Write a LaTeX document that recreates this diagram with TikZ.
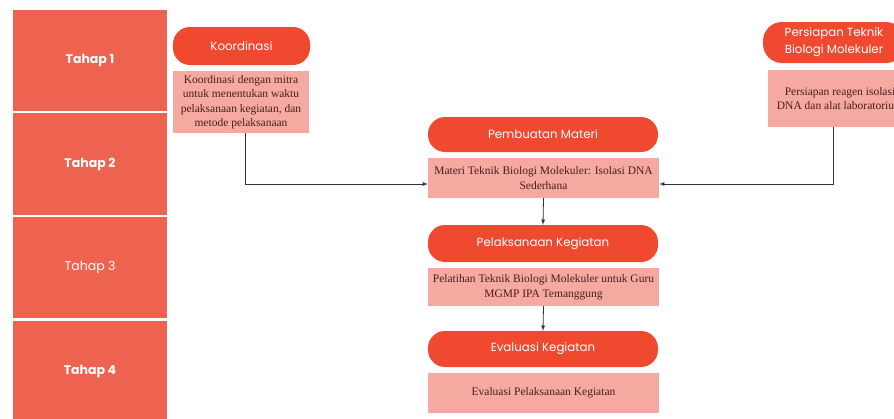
\documentclass[tikz,border=0pt]{standalone}
\usepackage{fontspec}
\setmainfont{Liberation Serif}
\setsansfont{Poppins}
\usetikzlibrary{positioning}
\definecolor{tahapred}{HTML}{EE6250}
\definecolor{pillred}{HTML}{EF4A30}
\definecolor{descpink}{HTML}{F5A9A1}
\definecolor{desctext}{HTML}{4A1E1E}
\definecolor{linegray}{HTML}{333333}
\tikzset{>=latex}
\tikzset{
	tahap/.style={fill=tahapred, text=white, minimum width=154pt, inner sep=0pt,
		font=\sffamily\fontsize{12.5}{14}\selectfont},
	tahapbold/.style={tahap, font=\sffamily\bfseries\fontsize{12.5}{14}\selectfont},
	pill/.style={fill=pillred, text=white, rounded corners=17pt, inner sep=0pt, align=center,
		font=\sffamily\fontsize{11.8}{17}\selectfont},
	desc/.style={fill=descpink, text=desctext, inner sep=0pt, align=center,
		font=\fontsize{11.5}{14.5}\selectfont},
	link/.style={draw=linegray, line width=0.8pt, ->}
}

\begin{document}
\begin{tikzpicture}[x=1pt, y=-1pt]
	\useasboundingbox[fill=white] (0,0) rectangle (894,418);

	\node[tahapbold, minimum height=101pt] (tahap1) at (90,60.5) {Tahap 1};
	\node[tahapbold, minimum height=102pt] (tahap2) at (90,164) {Tahap 2};
	\node[tahap, minimum height=101pt] (tahap3) at (90,267.5) {Tahap 3};
	\node[tahapbold, minimum height=101pt] (tahap4) at (90,371.5) {Tahap 4};

	\node[pill, minimum width=137pt, minimum height=38pt] (koordinasi) at (241.5,46) {Koordinasi};
	\node[desc, minimum width=136pt, minimum height=62pt] (koordesc) at (241,102)
		{Koordinasi dengan mitra\\untuk menentukan waktu\\pelaksanaan kegiatan, dan\\metode pelaksanaan};

	\node[pill, minimum width=142pt, minimum height=41pt, rounded corners=19pt] (persiapan) at (834,42.5)
		{Persiapan Teknik\\Biologi Molekuler};
	\node[desc, minimum width=144pt, minimum height=57pt] (persdesc) at (840,98.5)
		{Persiapan reagen isolasi\\DNA dan alat laboratorium};

	\node[pill, minimum width=230pt, minimum height=35pt] (materi) at (543,134.5) {Pembuatan Materi};
	\node[desc, minimum width=231pt, minimum height=40pt] (materidesc) at (543.5,178)
		{Materi Teknik Biologi Molekuler: Isolasi DNA\\Sederhana};

	\node[pill, minimum width=230pt, minimum height=37pt] (pelaksanaan) at (543,243.5) {Pelaksanaan Kegiatan};
	\node[desc, minimum width=231pt, minimum height=38pt] (pelakdesc) at (543.5,287)
		{Pelatihan Teknik Biologi Molekuler untuk Guru\\MGMP IPA Temanggung};

	\node[pill, minimum width=230pt, minimum height=36pt] (evaluasi) at (543,349) {Evaluasi Kegiatan};
	\node[desc, minimum width=231pt, minimum height=40pt] (evaldesc) at (543.5,393)
		{Evaluasi Pelaksanaan Kegiatan};

	\draw[link] ([xshift=4pt]koordesc.south) |- ([yshift=-6pt]materidesc.west);
	\draw[link] ([xshift=-7pt]persdesc.south) |- ([yshift=-6pt]materidesc.east);
	\draw[link] (materidesc.south) -- (pelaksanaan.north);
	\draw[link] (pelakdesc.south) -- (evaluasi.north);
\end{tikzpicture}
\end{document}
